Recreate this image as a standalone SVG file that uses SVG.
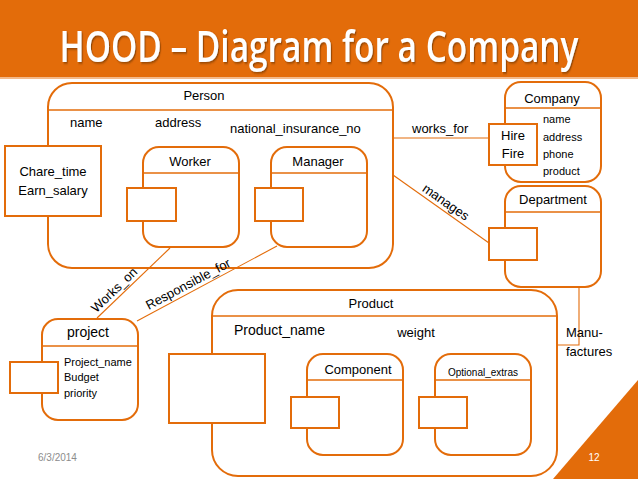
<svg xmlns="http://www.w3.org/2000/svg" width="638" height="479" viewBox="0 0 638 479">
<defs>
<filter id="sh" x="-5%" y="-20%" width="110%" height="140%">
<feDropShadow dx="1.5" dy="1.5" stdDeviation="1" flood-color="#5a2a00" flood-opacity="0.6"/>
</filter>
</defs>
<style>
.box{fill:#fff;stroke:#E36C0A;stroke-width:2}
.hl{stroke:#E36C0A;stroke-width:1.5}
.con{fill:none;stroke:#E36C0A;stroke-width:1.1}
text{font-family:"Liberation Sans",Arial,sans-serif;fill:#000}
.t13{font-size:13px}
.t14{font-size:14px}
.t11{font-size:11px}
.mid{text-anchor:middle}
</style>
<rect x="0" y="0" width="638" height="77" fill="#E36C0A"/>
<rect x="0" y="77" width="638" height="2" fill="#F3B98A"/>
<g transform="translate(319,62) scale(0.76,1)" filter="url(#sh)">
<text x="0" y="0" class="mid" font-size="44" font-weight="600" style="fill:#fff;font-family:'Open Sans','Liberation Sans',sans-serif">HOOD – Diagram for a Company</text>
</g>

<g id="person">
<rect class="box" x="48" y="83" width="345" height="185" rx="24"/>
<line class="hl" x1="48" y1="110" x2="393" y2="110"/>
<text class="t13 mid" x="204" y="100">Person</text>
<text class="t13" x="70" y="127">name</text>
<text class="t13" x="155" y="127">address</text>
<text class="t13" x="230" y="133">national_insurance_no</text>
</g>
<g id="chare">
<rect class="box" x="5" y="146" width="96" height="70"/>
<text class="t13 mid" x="53" y="176">Chare_time</text>
<text class="t13 mid" x="53" y="195">Earn_salary</text>
</g>
<g id="worker">
<rect class="box" x="143" y="147" width="96" height="100" rx="16"/>
<line class="hl" x1="143" y1="173" x2="239" y2="173"/>
<text class="t13 mid" x="190" y="166">Worker</text>
<rect class="box" x="127" y="188" width="49" height="33"/>
</g>
<g id="manager">
<rect class="box" x="271" y="147" width="96" height="100" rx="16"/>
<line class="hl" x1="271" y1="173" x2="367" y2="173"/>
<text class="t13 mid" x="318" y="166">Manager</text>
<rect class="box" x="255" y="188" width="48" height="33"/>
</g>

<g id="company">
<rect class="box" x="505" y="82" width="96" height="100" rx="16"/>
<line class="hl" x1="505" y1="108" x2="601" y2="108"/>
<text class="t13 mid" x="552" y="103">Company</text>
<text class="t11" x="543" y="123">name</text>
<text class="t11" x="543" y="141">address</text>
<text class="t11" x="543" y="158">phone</text>
<text class="t11" x="543" y="175">product</text>
<rect class="box" x="489" y="124" width="48" height="41"/>
<text class="t13 mid" x="513" y="140">Hire</text>
<text class="t13 mid" x="513" y="158">Fire</text>
</g>
<g id="department">
<rect class="box" x="505" y="186" width="96" height="101" rx="16"/>
<line class="hl" x1="505" y1="212" x2="601" y2="212"/>
<text class="t13 mid" x="553" y="204">Department</text>
<rect class="box" x="489" y="228" width="48" height="32"/>
</g>

<g id="project">
<rect class="box" x="42" y="319" width="96" height="101" rx="16"/>
<line class="hl" x1="42" y1="346" x2="138" y2="346"/>
<text class="t14 mid" x="88" y="337">project</text>
<text class="t11" x="64" y="366">Project_name</text>
<text class="t11" x="64" y="381">Budget</text>
<text class="t11" x="64" y="397">priority</text>
<rect class="box" x="10" y="362" width="48" height="31"/>
</g>

<g id="product">
<rect class="box" x="212" y="290" width="345" height="186" rx="26"/>
<line class="hl" x1="212" y1="316" x2="557" y2="316"/>
<text class="t13 mid" x="371" y="308">Product</text>
<text class="t14" x="234" y="335">Product_name</text>
<text class="t13 mid" x="416" y="337">weight</text>
<rect class="box" x="169" y="354" width="96" height="69"/>
</g>
<g id="component">
<rect class="box" x="307" y="354" width="96" height="101" rx="16"/>
<line class="hl" x1="307" y1="380" x2="403" y2="380"/>
<text class="t13 mid" x="358" y="374">Component</text>
<rect class="box" x="291" y="397" width="48" height="31"/>
</g>
<g id="optional">
<rect class="box" x="435" y="354" width="96" height="101" rx="16"/>
<line class="hl" x1="435" y1="380" x2="531" y2="380"/>
<text class="mid" font-size="10" x="483" y="376">Optional_extras</text>
<rect class="box" x="419" y="397" width="48" height="31"/>
</g>

<g id="connectors">
<line class="con" x1="393" y1="138" x2="489" y2="138"/>
<line class="con" x1="393" y1="175" x2="489" y2="243"/>
<line class="con" x1="170" y1="248" x2="97" y2="318"/>
<line class="con" x1="277" y1="246" x2="137" y2="321"/>
<polyline class="con" points="579,287 579,345 557,345"/>
<text class="t13" x="412" y="133">works_for</text>
<text class="t13 mid" transform="translate(441,209) rotate(35)" x="0" y="-4">manages</text>
<text class="t13 mid" transform="translate(120,296) rotate(-44)" x="0" y="-4">Works_on</text>
<text class="t13 mid" transform="translate(192,291.5) rotate(-28)" x="0" y="-4">Responsible_for</text>
<text class="t13" x="566" y="337">Manu-</text>
<text class="t13" x="566" y="356">factures</text>
</g>

<text x="38" y="461" font-size="10" style="fill:#8c8c8c">6/3/2014</text>
<polygon points="553,479 638,380 638,479" fill="#E36C0A"/>
<text x="594" y="461" font-size="10" class="mid" style="fill:#fff">12</text>
</svg>
